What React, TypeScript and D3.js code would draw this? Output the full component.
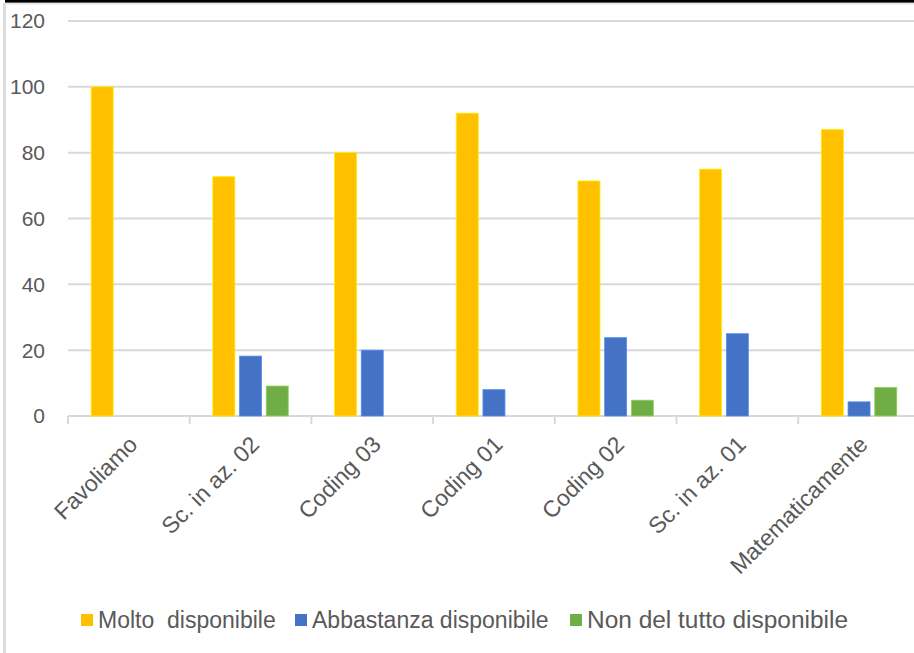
import React, { useEffect, useRef } from "react";
import * as d3 from "d3";

const categories = ["Favoliamo", "Sc. in az. 02", "Coding 03", "Coding 01", "Coding 02", "Sc. in az. 01", "Matematicamente"];
const seriesNames = ["Molto  disponibile", "Abbastanza disponibile", "Non del tutto disponibile"];
const molto = [100, 72.7, 80, 92, 71.4, 75, 87];
const abbastanza = [0, 18.2, 20, 8, 23.8, 25, 4.3];
const nonDelTutto = [0, 9.1, 0, 0, 4.8, 0, 8.7];
const yTicks = [0, 20, 40, 60, 80, 100, 120];
const colors = ["#FFC000", "#4472C4", "#70AD47"];

const W = 914;
const H = 653;
const FONT = "'Liberation Sans', Arial, sans-serif";
const TXT = "#595959";
const GRID = "#d9d9d9";

export default function App() {
  const ref = useRef<SVGSVGElement | null>(null);

  useEffect(() => {
    const svg = d3.select(ref.current);
    svg.selectAll("*").remove();

    const values = [molto, abbastanza, nonDelTutto];
    const x0 = d3.scaleBand<string>().domain(categories).range([68, 68 + 7 * 121.7]);
    const x1 = d3.scaleBand<string>().domain(seriesNames).range([-40.05, 40.05]).paddingInner(0.176).paddingOuter(0.088);
    const y = d3.scaleLinear().domain([0, 120]).range([416, 21]);

    svg.append("rect").attr("x", 0).attr("y", 0).attr("width", W).attr("height", H).attr("fill", "#fff");
    svg.append("rect").attr("x", 3).attr("y", 3).attr("width", 3).attr("height", H).attr("fill", "#dcdcdc");
    svg.append("rect").attr("x", 5).attr("y", 2.5).attr("width", W).attr("height", 2).attr("fill", "#e6e6e6");
    svg.append("rect").attr("x", 5).attr("y", 0).attr("width", W).attr("height", 2.6).attr("fill", "#000");

    svg.append("g").selectAll("line").data(yTicks).join("line")
      .attr("x1", 68).attr("x2", W + 10)
      .attr("y1", (d) => y(d)).attr("y2", (d) => y(d))
      .attr("stroke", GRID).attr("stroke-width", 2);

    const bounds = categories.map((c) => x0(c) as number);
    svg.append("g").selectAll("line").data(bounds).join("line")
      .attr("x1", (d) => d).attr("x2", (d) => d)
      .attr("y1", 416).attr("y2", 424)
      .attr("stroke", GRID).attr("stroke-width", 2);

    svg.append("g").selectAll("text").data(yTicks).join("text")
      .attr("x", 45).attr("y", (d) => y(d))
      .attr("dy", "0.35em")
      .attr("text-anchor", "end")
      .attr("font-family", FONT).attr("font-size", 21).attr("fill", TXT)
      .text((d) => d);

    const g = svg.append("g");
    values.forEach((vals, si) => {
      g.append("g").selectAll("rect").data(vals.map((v, i) => ({ v, c: categories[i] }))).join("rect")
        .attr("x", (d) => (x0(d.c) as number) + x0.bandwidth() / 2 + (x1(seriesNames[si]) as number))
        .attr("width", x1.bandwidth())
        .attr("y", (d) => y(d.v))
        .attr("height", (d) => y(0) - y(d.v))
        .attr("fill", colors[si])
        .attr("stroke", d3.color(colors[si])!.brighter(0.6).formatHex())
        .attr("stroke-width", 0.8)
        .attr("display", (d) => (d.v > 0 ? null : "none"));
    });

    svg.append("g").selectAll("text").data(categories).join("text")
      .attr("transform", (d) => `translate(${(x0(d) as number) + x0.bandwidth() / 2 + 10},${446}) rotate(-45)`)
      .attr("text-anchor", "end")
      .attr("font-family", FONT).attr("font-size", 23).attr("fill", TXT)
      .text((d) => d);

    const leg = svg.append("g");
    let lx = 81;
    const legendSpans = [178, 239, 261];
    seriesNames.forEach((name, i) => {
      leg.append("rect").attr("x", lx).attr("y", 614).attr("width", 12).attr("height", 12)
        .attr("fill", colors[i]);
      const t = leg.append("text")
        .attr("x", lx + 17).attr("y", 620).attr("dy", "0.35em")
        .attr("font-family", FONT).attr("font-size", 23).attr("fill", TXT)
        .style("white-space", "pre")
        .text(name);
      const w = (t.node() as SVGTextElement).getComputedTextLength();
      if (Math.abs(w - legendSpans[i]) > 6) {
        t.attr("textLength", legendSpans[i]).attr("lengthAdjust", "spacingAndGlyphs");
      }
      lx = lx + 17 + legendSpans[i] + 19;
    });
  }, []);

  return (
    <svg
      ref={ref}
      width={W}
      height={H}
      style={{ position: "absolute", left: 0, top: 0, display: "block" }}
    />
  );
}
